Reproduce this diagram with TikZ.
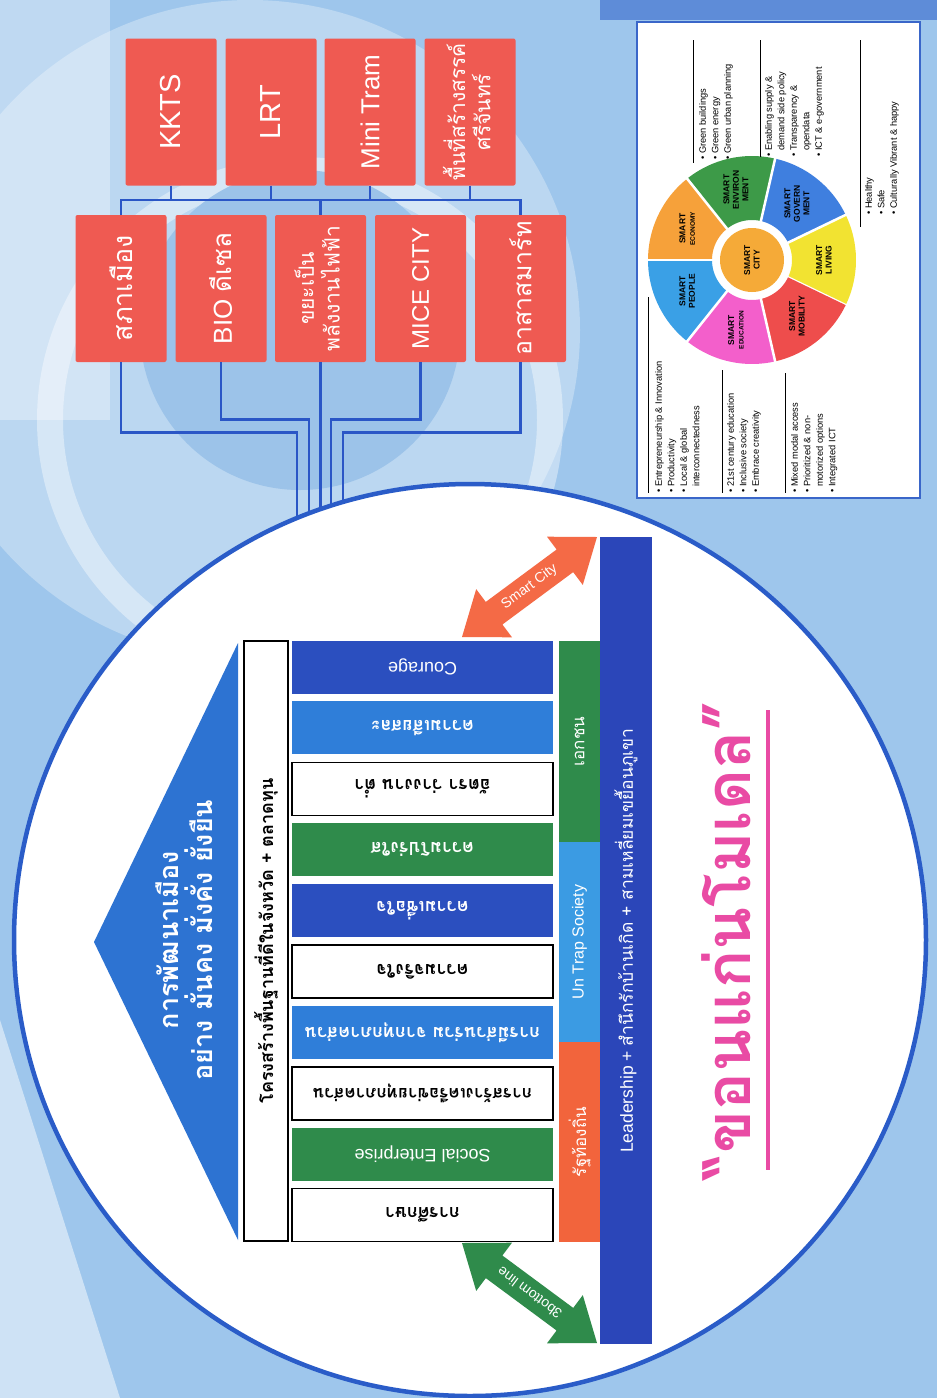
\documentclass[tikz,border=0pt]{standalone}
\usepackage{fontspec}
\usepackage{graphicx}
\setmainfont{Liberation Sans}
\newfontfamily\thf[Script=Thai]{Loma}
\usetikzlibrary{calc}
\newcommand{\fs}[2]{\fontsize{#1}{#2}\selectfont}
\definecolor{bgblue}{HTML}{9EC6EC}
\definecolor{bglight}{HTML}{BBD7F1}
\definecolor{circblue}{HTML}{2A5CC8}
\definecolor{lineblue}{HTML}{2A56C6}
\definecolor{boxred}{HTML}{EF5A52}
\definecolor{roofblue}{HTML}{2D73D2}
\definecolor{pdark}{HTML}{2B4FBF}
\definecolor{pmed}{HTML}{2F7ED9}
\definecolor{pgreen}{HTML}{2F8B4B}
\definecolor{plight}{HTML}{3B9BE3}
\definecolor{porange}{HTML}{F2643C}
\definecolor{leadblue}{HTML}{2B46B9}
\definecolor{arrorange}{HTML}{F46A46}
\definecolor{cpink}{HTML}{E94BA4}
\definecolor{panelblue}{HTML}{3A66C9}
\definecolor{wpeople}{HTML}{3AA0E6}
\definecolor{wecon}{HTML}{F6A13A}
\definecolor{wenv}{HTML}{3D9A48}
\definecolor{wgov}{HTML}{3F7FDF}
\definecolor{wliv}{HTML}{F2E331}
\definecolor{wmob}{HTML}{EE4D4C}
\definecolor{wedu}{HTML}{F35FCB}
\definecolor{wcity}{HTML}{F5AA38}
\begin{document}
\begin{tikzpicture}[x=1pt,y=-1pt,
  redbox/.style={fill=boxred, rounded corners=2pt, minimum width=91pt, minimum height=147pt, inner sep=0pt, text=white},
  conn/.style={draw=lineblue, line width=2.6pt},
  pillar/.style={minimum width=261pt, minimum height=53pt, inner sep=0pt, rotate=180, text=white, font=\fs{18}{21}},
  tpillar/.style={pillar, font=\thf\bfseries\fs{18}{21}},
  wpillar/.style={pillar, draw=black, line width=1.4pt, fill=white, text=black, font=\thf\bfseries\fs{18}{21}},
  basebar/.style={rotate=90, minimum height=41pt, inner sep=0pt, text=white, font=\fs{16}{19}},
  plist/.style={rotate=90, align=left, inner sep=0pt, anchor=north west, font=\fs{9.3}{12.5}},
  wlabel/.style={rotate=90, align=center, inner sep=0pt, font=\bfseries\fs{8.5}{9.5}},
  rule/.style={draw=black, line width=1pt}]
\useasboundingbox (0,0) rectangle (937,1398);
\begin{scope}
\clip (0,0) rectangle (937,1398);
% background
\fill[bgblue] (0,0) rectangle (937,1398);
\fill[bglight] (250,330) circle[radius=330pt];
\fill[white, opacity=0.35] (0,0) rectangle (110,420);
\draw[white, opacity=0.4, line width=26pt] (300,420) circle[radius=250pt];
\fill[bgblue!85!black!10!bgblue] (300,330) circle[radius=160pt];
\fill[white, opacity=0.5] (0,1020) -- (120,1398) -- (0,1398) -- cycle;
\fill[circblue!55!bgblue] (600,0) rectangle (937,20);

% red boxes, top row
\node[redbox] (kkts) at (171,112) {\rotatebox{90}{\fs{29}{32}KKTS}};
\node[redbox] (lrt) at (271,112) {\rotatebox{90}{\fs{29}{32}LRT}};
\node[redbox] (tram) at (370,112) {\rotatebox{90}{\fs{26}{30}Mini Tram}};
\node[redbox] (srichan) at (470,112) {\rotatebox{90}{\thf\fs{21}{23}\begin{tabular}{@{}c@{}}พื้นที่สร้างสรรค์\\ศรีจันทร์\end{tabular}}};
% red boxes, second row
\node[redbox] (sapha) at (121,288.5) {\rotatebox{90}{\thf\fs{27}{30}สภาเมือง}};
\node[redbox] (bio) at (221,288.5) {\rotatebox{90}{\fs{26}{30}BIO {\thf ดีเซล}}};
\node[redbox] (khaya) at (320.5,288.5) {\rotatebox{90}{\thf\fs{21}{23}\begin{tabular}{@{}c@{}}ขยะเป็น\\พลังงานไฟฟ้า\end{tabular}}};
\node[redbox] (mice) at (420.5,288.5) {\rotatebox{90}{\fs{24}{28}MICE CITY}};
\node[redbox] (asa) at (520.5,288.5) {\rotatebox{90}{\thf\fs{25}{28}อาสาสมาร์ท}};

% connectors
\coordinate (busy) at (0,200);
\draw[conn] (sapha.north) -- (sapha.north |- busy) -- (asa.north |- busy) -- (asa.north);
\foreach \n in {kkts,lrt,tram,srichan} \draw[conn] (\n.south) -- (\n.south |- busy);
\draw[conn] (khaya.north) -- (khaya.north |- busy);
\coordinate (h1) at (297,560);
\coordinate (h2) at (309,560);
\coordinate (h3) at (320.5,560);
\coordinate (h4) at (331,560);
\coordinate (h5) at (343,560);
\draw[conn] (sapha.south) -- ++(0,70) -| (h1);
\draw[conn] (bio.south) -- ++(0,57) -| (h2);
\draw[conn] (khaya.south) -- (h3);
\draw[conn] (mice.south) -- ++(0,57) -| (h4);
\draw[conn] (asa.south) -- ++(0,70) -| (h5);

% big circle
\draw[line width=4.5pt, draw=circblue, fill=white] (470,940) circle[radius=456pt];

% roof
\fill[roofblue] (94,942) -- (238,643) -- (238,1240) -- cycle;
\node[rotate=90, text=white, align=center, font=\thf\bfseries\fs{27}{34}] (roof) at (184,940) {การพัฒนาเมือง\\อย่าง มั่นคง มั่งคั่ง ยั่งยืน};
% beam
\node[draw=black, line width=1.3pt, fill=white, rotate=90, minimum width=600pt, minimum height=44pt, inner sep=0pt, font=\thf\bfseries\fs{18}{20}] (beam) at (266,941) {โครงสร้างพื้นฐานที่ดีในจังหวัด + ตลาดทุน};

% pillars
\node[pillar, fill=pdark] (p1) at (422.5,667) {Courage};
\node[tpillar, fill=pmed] (p2) at (422.5,727.9) {ความเสียสละ};
\node[wpillar] (p3) at (422.5,788.8) {อัตรา ว่างงาน ต่ำ};
\node[tpillar, fill=pgreen] (p4) at (422.5,849.7) {ความโปร่งใส};
\node[tpillar, fill=pdark] (p5) at (422.5,910.6) {ความเชื่อใจ};
\node[wpillar] (p6) at (422.5,971.5) {ความจริงใจ};
\node[tpillar, fill=pmed] (p7) at (422.5,1032.4) {การมีส่วนร่วม จากทุกภาคส่วน};
\node[wpillar, font=\thf\bfseries\fs{17}{20}] (p8) at (422.5,1093.3) {การสร้างเครือข่ายทุกภาคส่วน};
\node[pillar, fill=pgreen] (p9) at (422.5,1154.2) {Social Enterprise};
\node[wpillar] (p10) at (422.5,1215.1) {การศึกษา};

% base row
\node[basebar, fill=pgreen, minimum width=201pt, font=\thf\fs{17}{19}] (ekachon) at (579.5,741.5) {เอกชน};
\node[basebar, fill=plight, minimum width=200pt] (untrap) at (579.5,942) {Un Trap Society};
\node[basebar, fill=porange, minimum width=200pt, font=\thf\fs{17}{19}] (rat) at (579.5,1142) {รัฐท้องถิ่น};
% leadership
\node[rotate=90, fill=leadblue, minimum width=807pt, minimum height=52pt, inner sep=0pt, text=white, font=\fs{17.5}{20}] (lead) at (626,940.5) {Leadership + {\thf สำนึกรักบ้านเกิด + สามเหลี่ยมเขยื้อนภูเขา}};

% double arrows
\fill[arrorange] (462,637) -- (512.0,637.3) -- (502.4,624.5) -- (573.2,572.1) -- (582.8,584.9) -- (597,537) -- (547.0,536.7) -- (556.6,549.5) -- (485.8,601.9) -- (476.2,589.1) -- cycle;
\node[rotate=36.5, text=white, inner sep=0pt, font=\fs{14}{16}] (sc) at (529.5,587) {Smart City};
\fill[pgreen] (462,1243) -- (512.0,1242.7) -- (502.4,1255.5) -- (573.2,1307.9) -- (582.8,1295.1) -- (597,1343) -- (547.0,1343.3) -- (556.6,1330.5) -- (485.8,1278.1) -- (476.2,1290.9) -- cycle;
\node[rotate=143.5, text=white, inner sep=0pt, font=\fs{14}{16}] (bl) at (529.5,1293) {3bottom line};

% title
\node[rotate=90, text=cpink, inner sep=0pt, font=\thf\bfseries\fs{63}{70}] (title) at (726,940) {“ขอนแก่นโมเดล”};
\draw[cpink, line width=4.5pt] (768,710) -- (768,1170);

% smart city panel
\draw[panelblue, line width=2pt, fill=white] (637,22) rectangle (920,498);
\coordinate (wc) at (752,260);
\begin{scope}[shift={(wc)}]
\foreach \a/\c in {0/wliv, -51.43/wgov, -102.86/wenv, -154.29/wecon, 154.29/wpeople, 102.86/wedu, 51.43/wmob}{
  \pgfmathsetmacro{\aa}{\a-25.71}
  \pgfmathsetmacro{\ab}{\a+25.71}
  \fill[\c] plot[domain=\aa:\ab, samples=20] (\x:104) -- plot[domain=\ab:\aa, samples=20] (\x:40) -- cycle;
  \draw[white, line width=2.5pt] (\ab:38) -- (\ab:106);
}
\end{scope}
\fill[wcity] (wc) circle[radius=32pt];
\node[wlabel] (wcityl) at (wc) {SMART\\CITY};
\node[wlabel] (wlivl) at ($(wc)+(0:72)$) {SMART\\LIVING};
\node[wlabel] (wgovl) at ($(wc)+(-51.43:72)$) {SMART\\GOVERN\\MENT};
\node[wlabel] (wenvl) at ($(wc)+(-102.86:72)$) {SMART\\ENVIRON\\MENT};
\node[wlabel] (wecol) at ($(wc)+(-154.29:72)$) {SMART\\{\fs{6.5}{7.5}ECONOMY}};
\node[wlabel] (wpeol) at ($(wc)+(154.29:72)$) {SMART\\PEOPLE};
\node[wlabel] (wedul) at ($(wc)+(102.86:72)$) {SMART\\{\fs{6.5}{7.5}EDUCATION}};
\node[wlabel] (wmobl) at ($(wc)+(51.43:72)$) {SMART\\MOBILITY};
% lists
\draw[rule] (648,297) -- (648,493);
\node[plist] (g1) at (655,493) {• Entrepreneurship \& Innovation\\• Productivity\\• Local \& global\\\phantom{• }interconnectedness};
\draw[rule] (722,370) -- (722,493);
\node[plist] (g2) at (727,493) {• 21st century education\\• Inclusive society\\• Embrace creativity};
\draw[rule] (785,373) -- (785,493);
\node[plist] (g3) at (791,493) {• Mixed modal access\\• Prioritized \& non-\\\phantom{• }motorized options\\• Integrated ICT};
\draw[rule] (693,40) -- (693,163);
\node[plist] (g5) at (699,160) {• Green buildings\\• Green energy\\• Green urban planning};
\draw[rule] (760,40) -- (760,157);
\node[plist] (g6) at (765,157) {• Enabling supply \&\\\phantom{• }demand side policy\\• Transparency \&\\\phantom{• }opendata\\• ICT \& e-government};
\draw[rule] (860,40) -- (860,227);
\node[plist] (g4) at (865,215) {• Healthy\\• Safe\\• Culturally Vibrant \& happy};
\end{scope}
\end{tikzpicture}
\end{document}
